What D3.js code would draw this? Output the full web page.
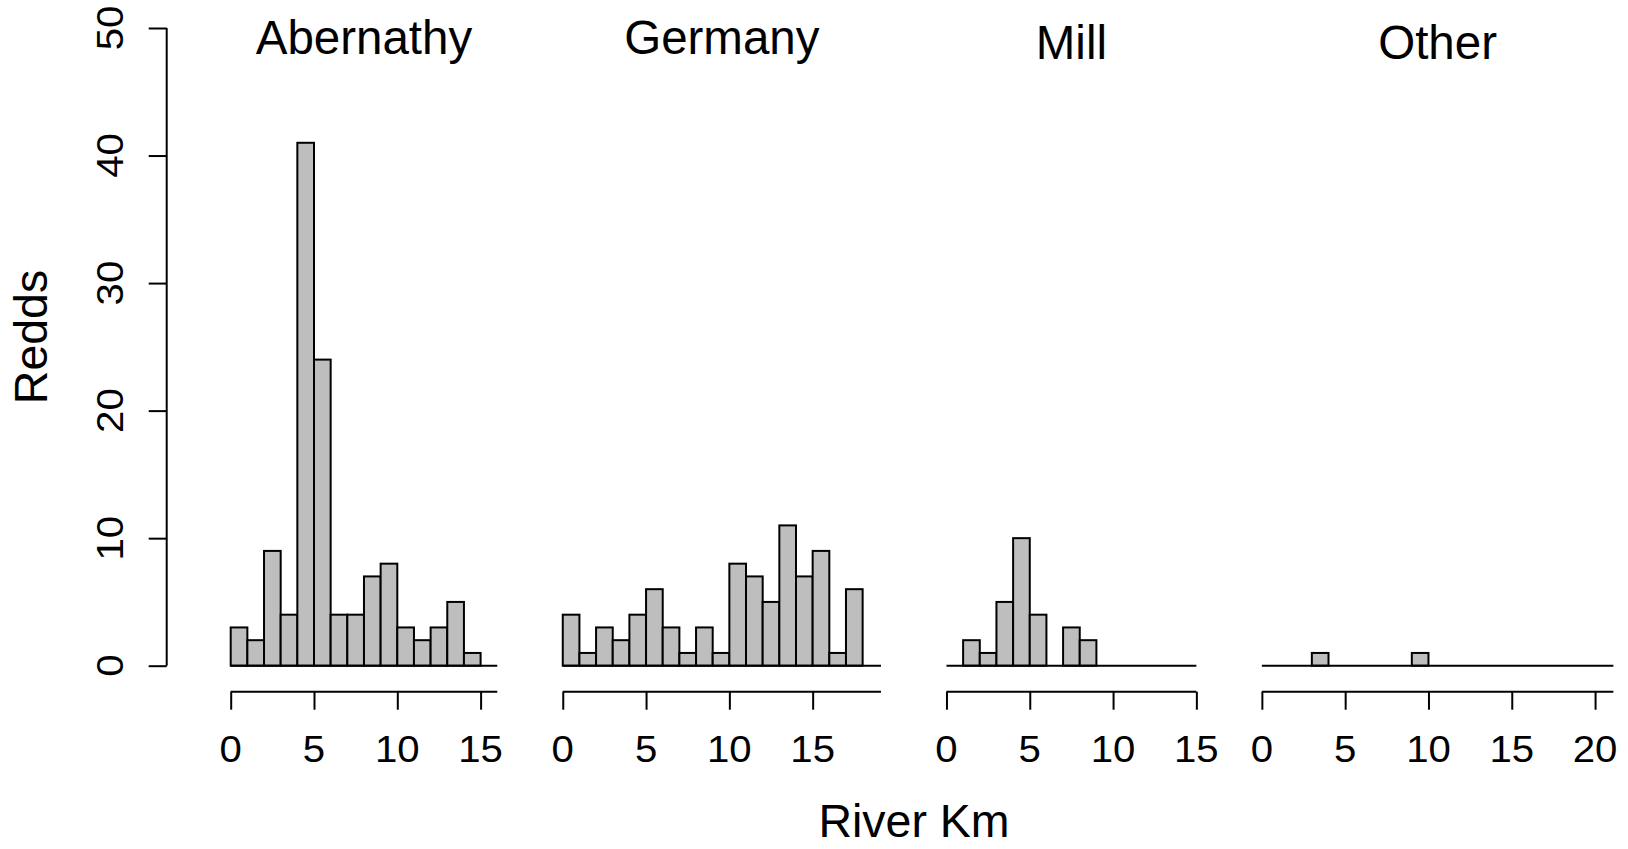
<!DOCTYPE html>
<html>
<head>
<meta charset="utf-8">
<script src="https://cdn.jsdelivr.net/npm/d3@7"></script>
<style>
  html, body { margin: 0; padding: 0; background: #fff; }
  svg text { font-family: "Liberation Sans", Arial, Helvetica, sans-serif; fill: #000; }
</style>
</head>
<body>
<svg id="chart" width="1628" height="849"></svg>
<script>
// Redd counts per 1-km river reach, one histogram per stream
const streams = ["Abernathy", "Germany", "Mill", "Other"];
// upper end of each stream's km axis
const streamMaxKm = [16, 19.1, 15, 21.1];
// counts per 1-km bin, bin i covers [i, i+1)
const abernathyCounts = [3, 2, 9, 4, 41, 24, 4, 4, 7, 8, 3, 2, 3, 5, 1];
const germanyCounts   = [4, 1, 3, 2, 4, 6, 3, 1, 3, 1, 8, 7, 5, 11, 7, 9, 1, 6];
const millCounts      = [0, 2, 1, 5, 10, 4, 0, 3, 2];
const otherCounts     = [0, 0, 0, 1, 0, 0, 0, 0, 0, 1];
const countsByStream = [abernathyCounts, germanyCounts, millCounts, otherCounts];
const yTicks = [0, 10, 20, 30, 40, 50];
const xTickStep = 5;

// layout
const svg = d3.select("#chart");
const firstLeft = 230.7, pxPerKm = 16.66, panelGap = 65.5;
const yAxisX = 166.7, xAxisY = 691.7, tickLen = 18;
const titleBaseline = [54, 54, 58.5, 58.5];
const tickFont = 36.5, tickStretch = 1.1;
const titleFont = 47.5, labelFont = 46.5;
const lw = 2;

const y = d3.scaleLinear().domain([0, 50]).range([665.7, 28]);

// shared count axis on the far left
const yAxis = d3.axisLeft(y).tickValues(yTicks).tickSize(tickLen).tickSizeOuter(0).tickPadding(0).tickFormat(() => "");
const gy = svg.append("g").attr("transform", `translate(${yAxisX},0)`).call(yAxis);
gy.selectAll("path, line").attr("stroke", "#000").attr("stroke-width", lw);
gy.select(".domain").attr("d", `M0,${y(0)}V${y(50)}`);
svg.append("g").selectAll("text").data(yTicks).join("text")
  .attr("transform", d => `translate(123.3,${y(d)}) rotate(-90) scale(${tickStretch},1)`)
  .attr("text-anchor", "middle")
  .attr("font-size", tickFont)
  .text(d => d);

svg.append("text")
  .attr("transform", "translate(47,337) rotate(-90)")
  .attr("text-anchor", "middle")
  .attr("font-size", labelFont)
  .text("Redds");

let left = firstLeft;
streams.forEach((name, i) => {
  const maxKm = streamMaxKm[i];
  const x = d3.scaleLinear().domain([0, maxKm]).range([left, left + maxKm * pxPerKm]);
  const g = svg.append("g");

  const bins = countsByStream[i]
    .map((c, k) => ({ x0: k, x1: k + 1, n: c }))
    .filter(b => b.n > 0);

  g.selectAll("rect").data(bins).join("rect")
    .attr("x", d => x(d.x0))
    .attr("width", d => x(d.x1) - x(d.x0))
    .attr("y", d => y(d.n))
    .attr("height", d => y(0) - y(d.n))
    .attr("fill", "#bebebe")
    .attr("stroke", "#000")
    .attr("stroke-width", lw);

  // zero line under the bars
  g.append("line")
    .attr("x1", x(0)).attr("x2", x(maxKm))
    .attr("y1", y(0)).attr("y2", y(0))
    .attr("stroke", "#000").attr("stroke-width", lw);

  // km axis
  const ticks = d3.range(0, maxKm + 1e-9, xTickStep);
  const xAxis = d3.axisBottom(x).tickValues(ticks).tickSize(tickLen).tickSizeOuter(0).tickFormat(() => "");
  const gx = g.append("g").attr("transform", `translate(0,${xAxisY})`).call(xAxis);
  gx.selectAll("path, line").attr("stroke", "#000").attr("stroke-width", lw);
  gx.select(".domain").attr("d", `M${x(0)},0H${x(maxKm)}`);
  g.append("g").selectAll("text").data(ticks).join("text")
    .attr("transform", d => `translate(${x(d)},761.7) scale(${tickStretch},1)`)
    .attr("text-anchor", "middle")
    .attr("font-size", tickFont)
    .text(d => d);

  g.append("text")
    .attr("x", (x(0) + x(maxKm)) / 2)
    .attr("y", titleBaseline[i])
    .attr("text-anchor", "middle")
    .attr("font-size", titleFont)
    .text(name);

  left = x(maxKm) + panelGap;
});

svg.append("text")
  .attr("x", 914)
  .attr("y", 836.7)
  .attr("text-anchor", "middle")
  .attr("font-size", labelFont)
  .text("River Km");
</script>
</body>
</html>
